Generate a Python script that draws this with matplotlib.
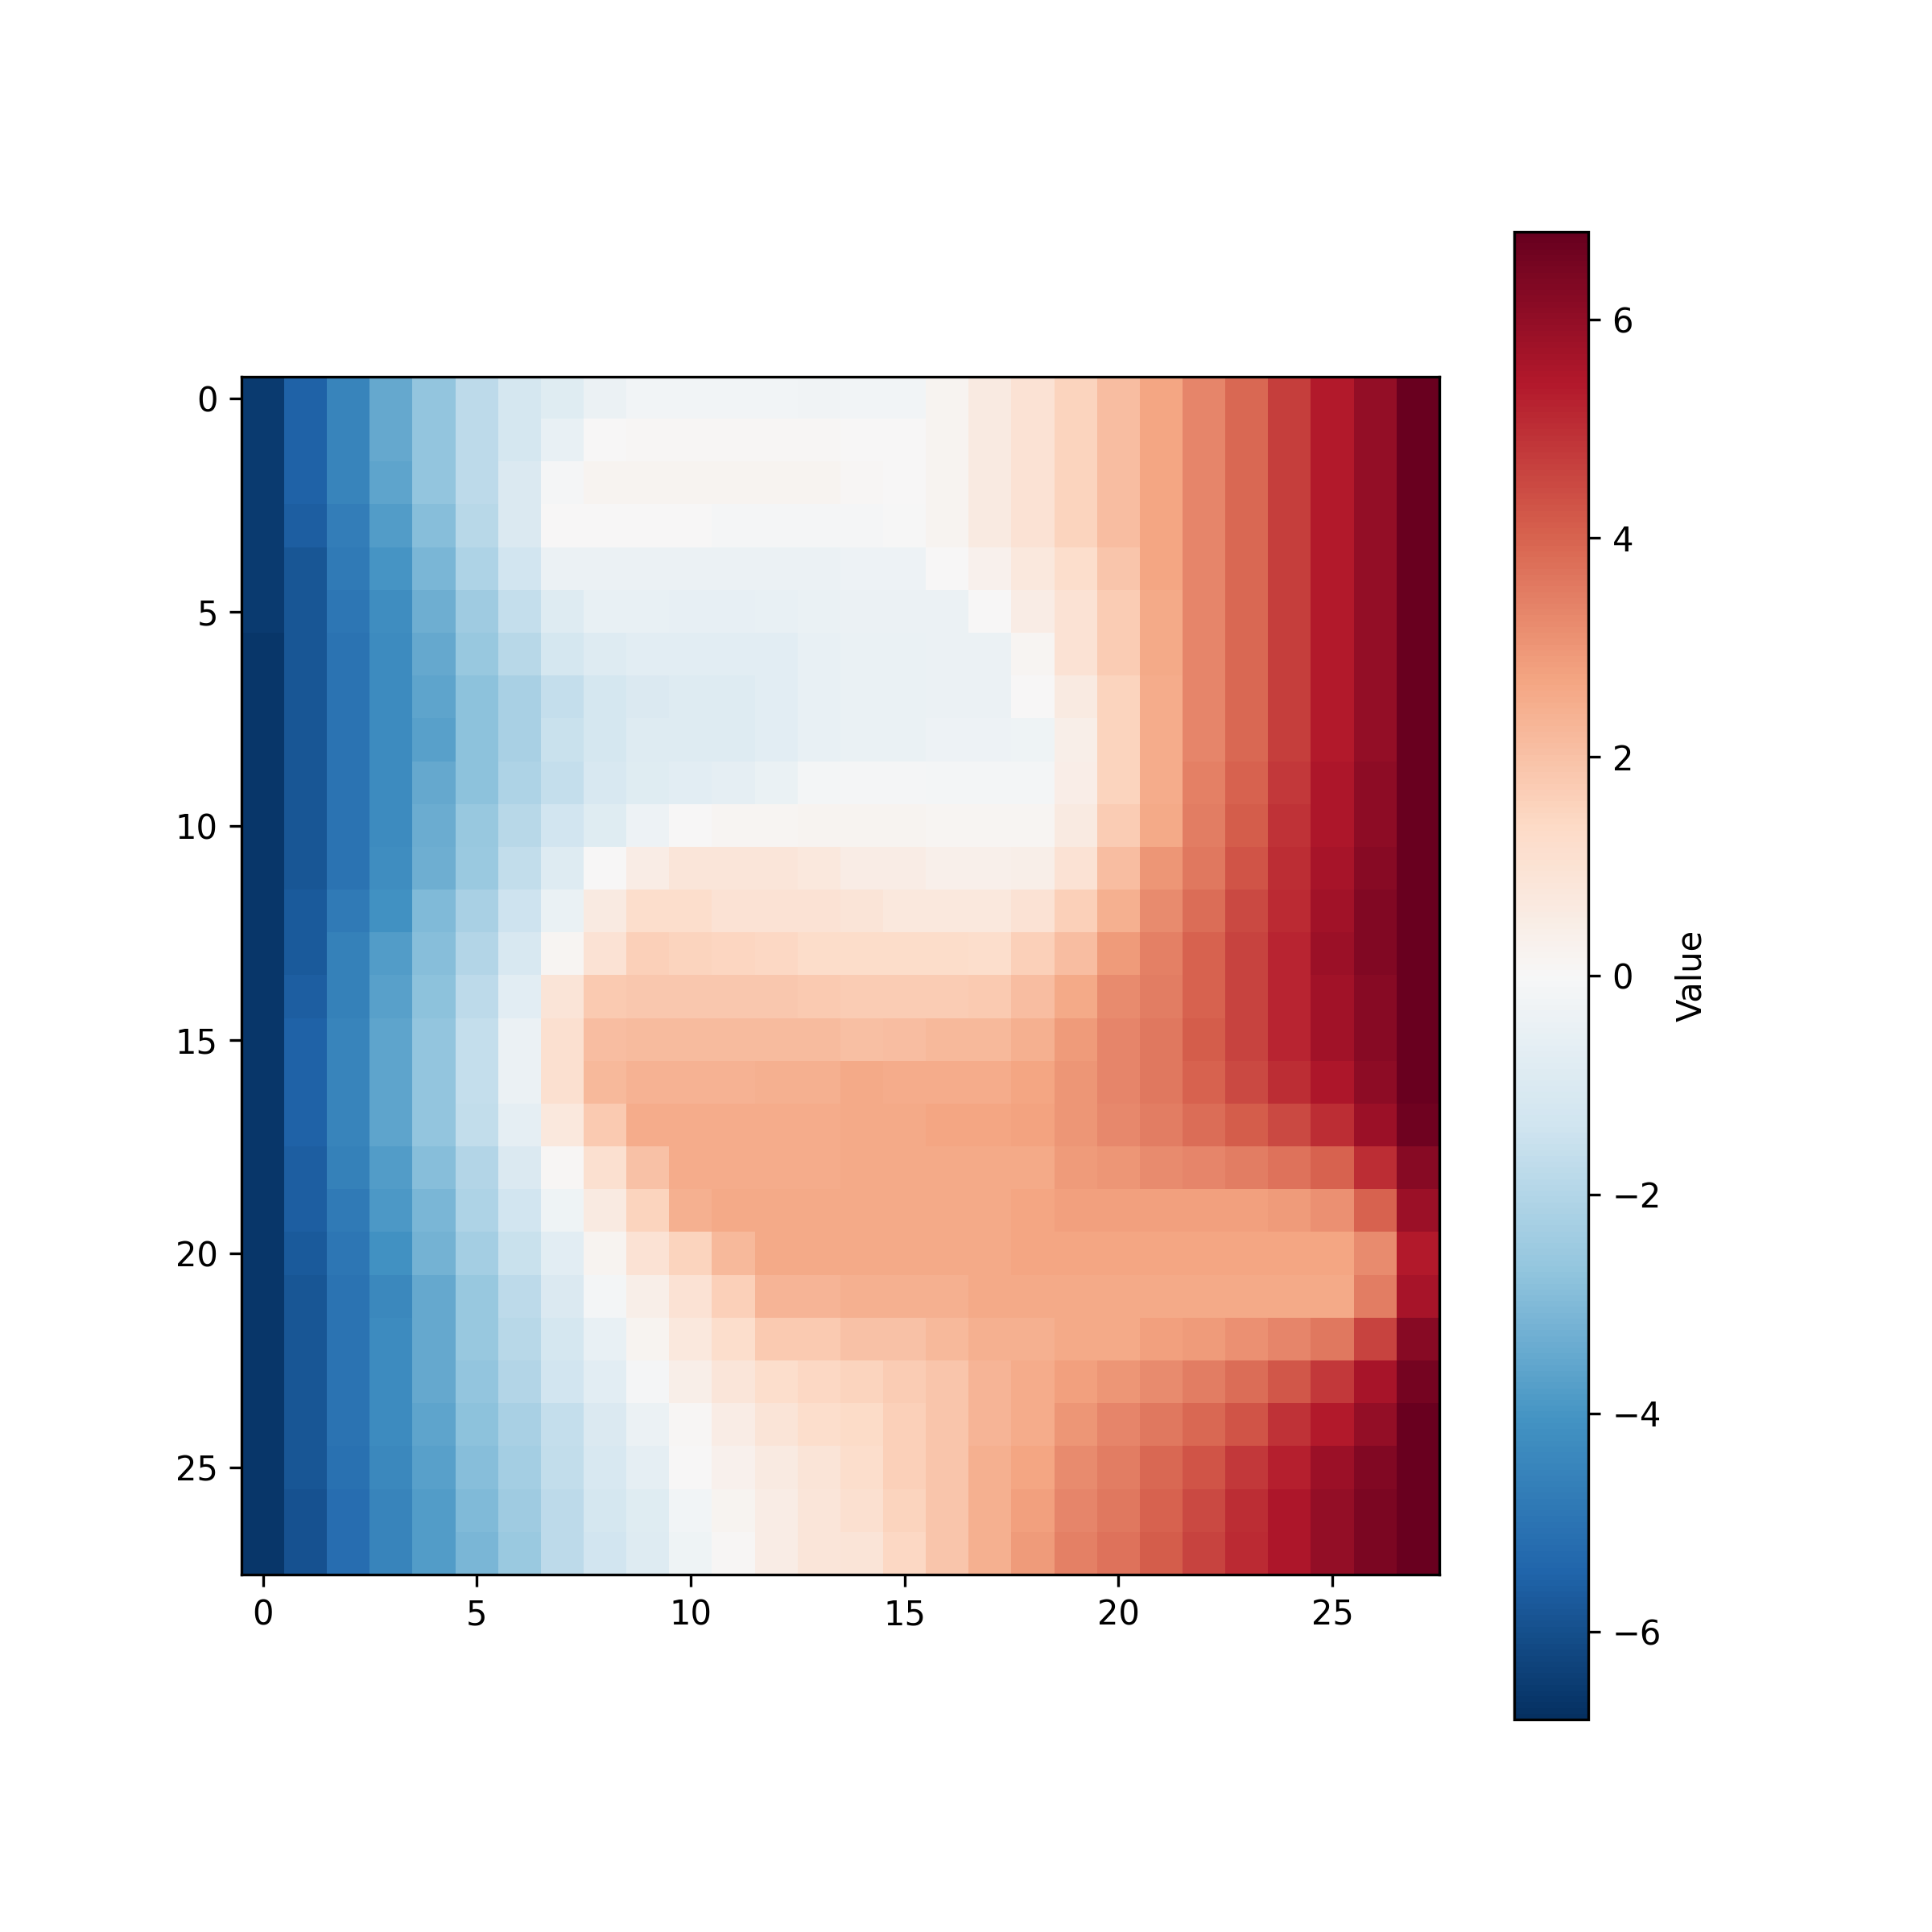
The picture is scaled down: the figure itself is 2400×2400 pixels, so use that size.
import numpy as np
import matplotlib
matplotlib.use("Agg")
import matplotlib.pyplot as plt

# values, one list per row (rows 0..27)
row_00 = [-6.5, -5.5, -4.5, -3.5, -2.7, -1.8, -1.2, -0.8, -0.4, -0.2, -0.2, -0.2, -0.2, -0.25, -0.2, -0.2, 0.2, 0.6, 1.0, 1.5, 2.1, 2.7, 3.3, 3.9, 4.7, 5.4, 6.0, 6.7]
row_01 = [-6.5, -5.5, -4.5, -3.5, -2.7, -1.8, -1.2, -0.5, 0.0, 0.1, 0.1, 0.1, 0.1, 0.1, 0.05, 0.05, 0.2, 0.6, 1.0, 1.5, 2.1, 2.7, 3.3, 3.9, 4.7, 5.4, 6.0, 6.7]
row_02 = [-6.5, -5.5, -4.5, -3.6, -2.7, -1.8, -1.0, -0.1, 0.2, 0.2, 0.2, 0.2, 0.2, 0.2, 0.1, 0.05, 0.2, 0.6, 1.0, 1.5, 2.1, 2.7, 3.3, 3.9, 4.7, 5.4, 6.0, 6.7]
row_03 = [-6.5, -5.6, -4.7, -3.8, -2.9, -1.9, -1.0, 0.0, 0.0, 0.0, 0.0, -0.1, -0.1, -0.1, -0.1, -0.05, 0.2, 0.6, 1.0, 1.5, 2.1, 2.7, 3.3, 3.9, 4.7, 5.4, 6.0, 6.7]
row_04 = [-6.5, -5.8, -4.8, -4.0, -3.1, -2.1, -1.3, -0.4, -0.4, -0.4, -0.4, -0.4, -0.4, -0.4, -0.35, -0.35, 0.0, 0.3, 0.7, 1.2, 1.9, 2.7, 3.3, 3.9, 4.7, 5.4, 6.0, 6.7]
row_05 = [-6.5, -5.8, -4.9, -4.2, -3.3, -2.4, -1.6, -0.9, -0.5, -0.5, -0.55, -0.55, -0.5, -0.45, -0.4, -0.4, -0.4, 0.0, 0.5, 1.0, 1.7, 2.6, 3.3, 3.9, 4.7, 5.4, 6.0, 6.7]
row_06 = [-6.6, -5.8, -5.0, -4.3, -3.5, -2.6, -1.9, -1.2, -0.9, -0.7, -0.7, -0.7, -0.7, -0.5, -0.45, -0.45, -0.4, -0.4, 0.15, 1.0, 1.7, 2.6, 3.3, 3.9, 4.7, 5.4, 6.0, 6.7]
row_07 = [-6.6, -5.8, -5.0, -4.3, -3.6, -2.8, -2.2, -1.6, -1.2, -1.0, -0.9, -0.9, -0.7, -0.5, -0.45, -0.45, -0.4, -0.4, 0.0, 0.6, 1.5, 2.5, 3.3, 3.9, 4.7, 5.4, 6.0, 6.7]
row_08 = [-6.6, -5.8, -5.0, -4.3, -3.7, -2.8, -2.2, -1.5, -1.2, -0.9, -0.9, -0.9, -0.7, -0.5, -0.45, -0.45, -0.35, -0.35, -0.3, 0.4, 1.5, 2.5, 3.3, 3.9, 4.7, 5.4, 6.0, 6.7]
row_09 = [-6.6, -5.8, -5.0, -4.3, -3.5, -2.8, -2.1, -1.6, -1.1, -0.8, -0.7, -0.6, -0.45, -0.15, -0.1, -0.1, -0.15, -0.15, -0.15, 0.45, 1.5, 2.5, 3.4, 4.0, 4.8, 5.5, 6.1, 6.7]
row_10 = [-6.6, -5.8, -5.0, -4.3, -3.4, -2.6, -1.9, -1.3, -0.85, -0.35, 0.05, 0.15, 0.15, 0.2, 0.2, 0.2, 0.15, 0.15, 0.15, 0.6, 1.7, 2.6, 3.5, 4.1, 4.9, 5.5, 6.1, 6.7]
row_11 = [-6.6, -5.8, -5.0, -4.2, -3.3, -2.5, -1.7, -0.9, 0.0, 0.5, 0.8, 0.8, 0.8, 0.7, 0.5, 0.5, 0.35, 0.35, 0.4, 1.0, 2.1, 3.0, 3.6, 4.3, 5.0, 5.6, 6.2, 6.7]
row_12 = [-6.6, -5.7, -4.8, -4.1, -3.0, -2.2, -1.4, -0.45, 0.6, 1.2, 1.2, 1.0, 1.0, 1.0, 0.9, 0.7, 0.7, 0.7, 1.0, 1.6, 2.4, 3.2, 3.8, 4.5, 5.1, 5.7, 6.3, 6.7]
row_13 = [-6.6, -5.7, -4.6, -3.8, -2.9, -2.0, -1.1, 0.15, 1.0, 1.6, 1.5, 1.45, 1.4, 1.25, 1.25, 1.25, 1.25, 1.2, 1.6, 2.1, 2.9, 3.4, 4.0, 4.6, 5.2, 5.8, 6.3, 6.7]
row_14 = [-6.6, -5.6, -4.6, -3.7, -2.8, -1.8, -0.7, 0.9, 1.8, 1.85, 1.85, 1.85, 1.85, 1.8, 1.75, 1.75, 1.75, 1.8, 2.1, 2.6, 3.2, 3.5, 4.0, 4.6, 5.2, 5.7, 6.2, 6.7]
row_15 = [-6.6, -5.5, -4.5, -3.6, -2.7, -1.6, -0.4, 1.1, 2.1, 2.15, 2.15, 2.15, 2.15, 2.15, 2.05, 2.1, 2.2, 2.2, 2.4, 2.9, 3.3, 3.6, 4.1, 4.6, 5.2, 5.7, 6.2, 6.7]
row_16 = [-6.6, -5.5, -4.5, -3.6, -2.7, -1.6, -0.4, 1.1, 2.2, 2.35, 2.35, 2.35, 2.4, 2.4, 2.6, 2.5, 2.5, 2.5, 2.7, 3.0, 3.3, 3.6, 4.0, 4.5, 5.0, 5.5, 6.1, 6.7]
row_17 = [-6.6, -5.5, -4.5, -3.6, -2.7, -1.7, -0.6, 0.7, 1.8, 2.5, 2.5, 2.5, 2.5, 2.5, 2.6, 2.6, 2.7, 2.7, 2.75, 3.0, 3.25, 3.5, 3.8, 4.1, 4.5, 5.0, 5.8, 6.6]
row_18 = [-6.6, -5.6, -4.6, -3.8, -2.9, -2.0, -1.0, 0.1, 1.1, 2.0, 2.5, 2.5, 2.5, 2.5, 2.6, 2.6, 2.6, 2.6, 2.6, 2.9, 3.0, 3.2, 3.3, 3.5, 3.7, 4.0, 5.0, 6.2]
row_19 = [-6.6, -5.6, -4.8, -3.9, -3.1, -2.1, -1.3, -0.3, 0.6, 1.5, 2.4, 2.6, 2.6, 2.6, 2.6, 2.6, 2.6, 2.6, 2.7, 2.8, 2.8, 2.8, 2.8, 2.8, 2.9, 3.1, 4.0, 5.8]
row_20 = [-6.6, -5.7, -4.9, -4.1, -3.2, -2.3, -1.5, -0.7, 0.2, 1.0, 1.5, 2.2, 2.6, 2.6, 2.6, 2.6, 2.6, 2.6, 2.7, 2.7, 2.7, 2.7, 2.7, 2.7, 2.7, 2.7, 3.2, 5.4]
row_21 = [-6.6, -5.8, -5.0, -4.4, -3.5, -2.6, -1.8, -1.0, -0.15, 0.4, 1.0, 1.6, 2.3, 2.3, 2.4, 2.4, 2.4, 2.6, 2.6, 2.6, 2.6, 2.6, 2.6, 2.6, 2.6, 2.6, 3.5, 5.6]
row_22 = [-6.6, -5.8, -5.0, -4.3, -3.5, -2.6, -1.9, -1.2, -0.5, 0.2, 0.7, 1.2, 1.8, 1.8, 2.0, 2.0, 2.2, 2.4, 2.4, 2.6, 2.6, 2.8, 2.9, 3.1, 3.3, 3.6, 4.6, 6.2]
row_23 = [-6.6, -5.8, -5.0, -4.3, -3.5, -2.7, -2.0, -1.3, -0.7, -0.1, 0.4, 0.8, 1.2, 1.4, 1.5, 1.7, 1.9, 2.3, 2.5, 2.8, 3.0, 3.2, 3.5, 3.8, 4.2, 4.8, 5.6, 6.5]
row_24 = [-6.6, -5.8, -5.0, -4.3, -3.6, -2.8, -2.2, -1.6, -1.0, -0.4, 0.1, 0.5, 0.9, 1.2, 1.3, 1.6, 1.9, 2.3, 2.5, 3.0, 3.3, 3.6, 3.9, 4.3, 4.9, 5.4, 6.0, 6.7]
row_25 = [-6.6, -5.8, -5.1, -4.4, -3.7, -2.9, -2.3, -1.7, -1.1, -0.6, 0.0, 0.3, 0.6, 0.9, 1.2, 1.6, 1.9, 2.4, 2.7, 3.2, 3.5, 3.9, 4.3, 4.8, 5.3, 5.8, 6.3, 6.7]
row_26 = [-6.6, -5.9, -5.2, -4.5, -3.8, -3.0, -2.4, -1.8, -1.2, -0.8, -0.2, 0.2, 0.5, 0.8, 1.1, 1.5, 1.9, 2.4, 2.8, 3.3, 3.6, 4.0, 4.5, 5.0, 5.5, 6.0, 6.4, 6.7]
row_27 = [-6.6, -5.9, -5.2, -4.5, -3.8, -3.1, -2.5, -1.8, -1.3, -0.9, -0.3, 0.1, 0.5, 0.8, 0.9, 1.4, 1.9, 2.4, 2.9, 3.4, 3.7, 4.1, 4.6, 5.1, 5.5, 6.0, 6.4, 6.7]

grid = np.array([row_00, row_01, row_02, row_03, row_04, row_05, row_06,
                 row_07, row_08, row_09, row_10, row_11, row_12, row_13,
                 row_14, row_15, row_16, row_17, row_18, row_19, row_20,
                 row_21, row_22, row_23, row_24, row_25, row_26, row_27])

# colour limits, symmetric around zero
VLIM = 6.8

fig, ax = plt.subplots(figsize=(8, 8))
im = ax.imshow(grid, cmap='RdBu_r', vmin=-VLIM, vmax=VLIM)
fig.colorbar(im, ax=ax, label='Value')

fig.savefig('out.png', dpi=300)
